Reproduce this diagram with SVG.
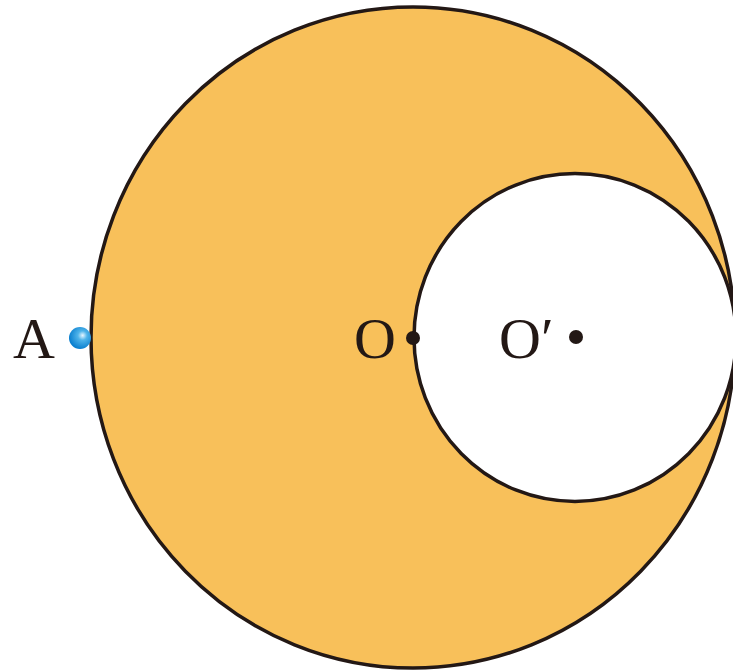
<svg xmlns="http://www.w3.org/2000/svg" width="733" height="672" viewBox="0 0 733 672">
<style>
.ln{stroke:#231815;stroke-width:3.5}
.lbl{font-family:"Liberation Serif","Times New Roman",serif;font-size:58px;fill:#231815}
.dot{fill:#231815}
</style>
<defs>
<radialGradient id="ball" cx="0.6" cy="0.4" r="0.6" fx="0.62" fy="0.38">
<stop offset="0" stop-color="#e8f6ff"/>
<stop offset="0.35" stop-color="#4fb4ea"/>
<stop offset="1" stop-color="#0a7fcf"/>
</radialGradient>
</defs>
<rect width="733" height="672" fill="#fff"/>
<g id="big-circle"><ellipse cx="413" cy="337.5" rx="322" ry="330.5" fill="#F8C05A" class="ln"/></g>
<g id="small-circle"><ellipse cx="575" cy="337.5" rx="161" ry="164" fill="#fff" class="ln"/></g>
<g id="A"><circle cx="80" cy="338" r="11" fill="url(#ball)"/><text x="13" y="358" class="lbl">A</text></g>
<g id="O"><circle cx="413" cy="338" r="7" class="dot"/><text x="354" y="358" class="lbl">O</text></g>
<g id="O-prime"><circle cx="576" cy="337" r="7" class="dot"/><text x="499" y="358" class="lbl">O′</text></g>
</svg>
